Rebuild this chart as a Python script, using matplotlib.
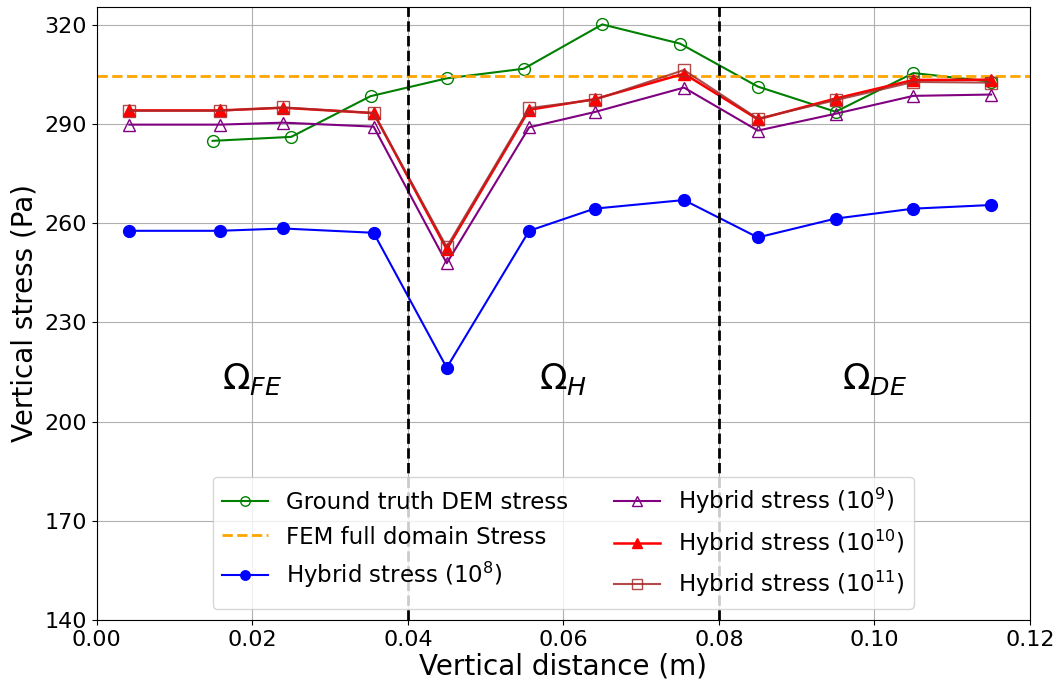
import matplotlib
matplotlib.use("Agg")
import matplotlib.pyplot as plt

# sample positions (m)
x_dem = [0.0149, 0.0250, 0.0352, 0.0450, 0.0549, 0.0650, 0.0750, 0.0850, 0.0950, 0.1050, 0.1150]
x_hyb = [0.0042, 0.0158, 0.0240, 0.0356, 0.0450, 0.0556, 0.0640, 0.0755, 0.0850, 0.0950, 0.1050, 0.1150]

# vertical stress (Pa)
dem_stress = [284.9, 286.1, 298.4, 303.8, 306.7, 320.1, 314.3, 301.3, 293.7, 305.4, 302.8]
fem_stress = 304.6
hyb_1e8 = [257.7, 257.7, 258.4, 257.1, 216.3, 257.7, 264.4, 267.0, 255.7, 261.4, 264.4, 265.5]
hyb_1e9 = [289.8, 289.8, 290.4, 289.2, 247.9, 289.0, 293.6, 301.0, 288.0, 293.1, 298.5, 298.9]
hyb_1e10 = [294.1, 294.1, 294.9, 293.3, 252.1, 294.3, 297.5, 305.2, 291.4, 297.7, 303.3, 303.4]
hyb_1e11 = [294.0, 294.0, 295.0, 293.3, 252.8, 294.8, 297.3, 306.3, 291.6, 297.2, 302.7, 302.5]

region_labels = [r'$\Omega_{FE}$', r'$\Omega_{H}$', r'$\Omega_{DE}$']
region_x = [0.02, 0.06, 0.10]
boundaries = [0.04, 0.08]

fig, ax = plt.subplots(figsize=(10.63, 6.89), dpi=100)
fig.subplots_adjust(left=0.091, right=0.969, top=0.99, bottom=0.1)

ax.plot(x_dem, dem_stress, color='green', marker='o', mfc='none', ms=8.5, lw=1.5,
        label='Ground truth DEM stress')
ax.axhline(fem_stress, color='orange', ls='--', lw=2, label='FEM full domain Stress')
ax.plot(x_hyb, hyb_1e8, color='blue', marker='o', ms=8.5, lw=1.5, label=r'Hybrid stress ($10^8$)')
ax.plot(x_hyb, hyb_1e9, color='purple', marker='^', mfc='none', ms=8.5, lw=1.5,
        label=r'Hybrid stress ($10^9$)')
ax.plot(x_hyb, hyb_1e10, color='red', marker='^', ms=8.5, lw=1.8,
        label=r'Hybrid stress ($10^{10}$)')
ax.plot(x_hyb, hyb_1e11, color='brown', marker='s', mfc='none', ms=8.5, lw=1.5, alpha=0.85,
        label=r'Hybrid stress ($10^{11}$)')

for b in boundaries:
    ax.axvline(b, color='black', ls='--', lw=2)

for lab, xr in zip(region_labels, region_x):
    ax.text(xr, 213, lab, fontsize=26, ha='center', va='center')

ax.set_xlim(0, 0.12)
ax.set_ylim(140, 325.4)
ax.set_yticks([140, 170, 200, 230, 260, 290, 320])
ax.set_xticks([0.0, 0.02, 0.04, 0.06, 0.08, 0.10, 0.12])
ax.tick_params(labelsize=16)
ax.set_xlabel('Vertical distance (m)', fontsize=20, labelpad=2)
ax.set_ylabel('Vertical stress (Pa)', fontsize=20, labelpad=4)
ax.grid(True)
ax.legend(loc='lower center', ncol=2, fontsize=16.5, markerscale=0.8)

fig.savefig('out.png')
